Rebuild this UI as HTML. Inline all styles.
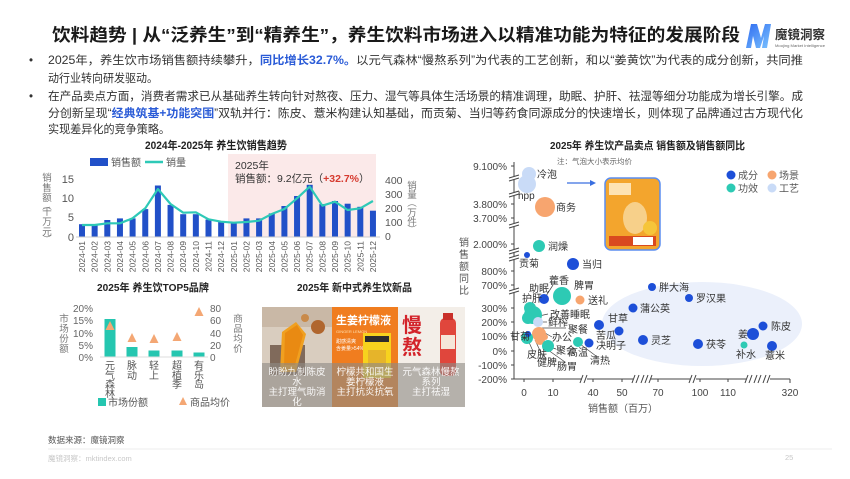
<!DOCTYPE html>
<html><head><meta charset="utf-8">
<style>
html,body{margin:0;padding:0;background:#fff;}
svg{display:block;font-family:"Liberation Sans","Noto Sans CJK SC",sans-serif;}
</style></head>
<body>
<svg width="850" height="479" viewBox="0 0 850 479" xmlns="http://www.w3.org/2000/svg">
<defs>
<linearGradient id="lg" x1="0" y1="0" x2="1" y2="1"><stop offset="0" stop-color="#2f6cf0"/><stop offset="1" stop-color="#7cc3ff"/></linearGradient>
</defs>
<rect width="850" height="479" fill="#fff"/>

<!-- Title -->
<text x="52" y="41" font-size="17.5" font-weight="bold" fill="#1a1a1a" textLength="688" lengthAdjust="spacingAndGlyphs">饮料趋势 | 从“泛养生”到“精养生”，养生饮料市场进入以精准功能为特征的发展阶段</text>
<!-- Logo -->
<path d="M746 48 L751 24 L757 24 L761 38 L765 24 L771 24 L767 48 L762 48 L764 36 L760 48 L756 48 L753 36 L751 48 Z" fill="url(#lg)"/>
<text x="775" y="39" font-size="12.5" font-weight="bold" fill="#333" textLength="50" lengthAdjust="spacingAndGlyphs">魔镜洞察</text>
<text x="775" y="47" font-size="3.6" fill="#666" textLength="50" lengthAdjust="spacingAndGlyphs">Moojing Market Intelligence</text>

<!-- Bullets -->
<g font-size="11.5" fill="#333">
<text x="29" y="64">•</text>
<text x="48" y="64" textLength="755" lengthAdjust="spacingAndGlyphs">2025年，养生饮市场销售额持续攀升，<tspan fill="#2a5bd7" font-weight="bold">同比增长32.7%。</tspan>以元气森林“慢熬系列”为代表的工艺创新，和以“姜黄饮”为代表的成分创新，共同推</text>
<text x="48" y="82" textLength="110" lengthAdjust="spacingAndGlyphs">动行业转向研发驱动。</text>
<text x="29" y="100">•</text>
<text x="48" y="100" textLength="755" lengthAdjust="spacingAndGlyphs">在产品卖点方面，消费者需求已从基础养生转向针对熬夜、压力、湿气等具体生活场景的精准调理，助眠、护肝、祛湿等细分功能成为增长引擎。成</text>
<text x="48" y="117" textLength="755" lengthAdjust="spacingAndGlyphs">分创新呈现“<tspan fill="#2a5bd7" font-weight="bold">经典筑基+功能突围</tspan>”双轨并行：陈皮、薏米构建认知基础，而贡菊、当归等药食同源成分的快速增长，则体现了品牌通过古方现代化</text>
<text x="48" y="133" textLength="122" lengthAdjust="spacingAndGlyphs">实现差异化的竞争策略。</text>
</g>

<!-- ===== Top-left chart ===== -->
<text x="145" y="149" font-size="11" font-weight="bold" fill="#222" textLength="142" lengthAdjust="spacingAndGlyphs">2024年-2025年 养生饮销售趋势</text>
<rect x="228" y="154" width="148" height="83" fill="#fbe9e9"/>
<rect x="90" y="158" width="18" height="8" fill="#2150c8"/>
<text x="111" y="166" font-size="10" fill="#555">销售额</text>
<line x1="145" y1="162" x2="163" y2="162" stroke="#2ec9b7" stroke-width="2.5"/>
<text x="166" y="166" font-size="10" fill="#555">销量</text>
<text x="235" y="169" font-size="10.5" fill="#333">2025年</text>
<text x="235" y="182" font-size="10.5" fill="#333">销售额：9.2亿元（<tspan fill="#d63a2f" font-weight="bold">+32.7%</tspan>）</text>

<g font-size="11" fill="#555" text-anchor="end">
<text x="74" y="183">15</text><text x="74" y="202">10</text><text x="74" y="221">5</text><text x="74" y="241">0</text>
</g>
<g font-size="10.5" fill="#555">
<text x="385" y="184">400</text><text x="385" y="198">300</text><text x="385" y="212">200</text><text x="385" y="226">100</text><text x="385" y="240">0</text>
</g>
<g font-size="9.5" fill="#777" text-anchor="middle">
<text x="47" y="181">销</text><text x="47" y="191">售</text><text x="47" y="201">额</text><text x="47" y="209">︵</text><text x="47" y="215">千</text><text x="47" y="225">万</text><text x="47" y="235">元</text><text x="47" y="243">︶</text>
<text x="412" y="189">销</text><text x="412" y="198">量</text><text x="412" y="206">︵</text><text x="412" y="216">万</text><text x="412" y="225">件</text><text x="412" y="233">︶</text>
</g>
<g fill="#2150c8">
<rect x="79" y="224.2" width="6" height="12.8"/>
<rect x="91.65" y="224.2" width="6" height="12.8"/>
<rect x="104.3" y="220" width="6" height="17"/>
<rect x="116.95" y="218.4" width="6" height="18.6"/>
<rect x="129.6" y="218.4" width="6" height="18.6"/>
<rect x="142.25" y="209.1" width="6" height="27.9"/>
<rect x="154.9" y="185.5" width="6" height="51.5"/>
<rect x="167.55" y="204.9" width="6" height="32.1"/>
<rect x="180.2" y="214.2" width="6" height="22.8"/>
<rect x="192.85" y="214.2" width="6" height="22.8"/>
<rect x="205.5" y="219.6" width="6" height="17.4"/>
<rect x="218.15" y="221.9" width="6" height="15.1"/>
<rect x="230.8" y="222.7" width="6" height="14.3"/>
<rect x="243.45" y="218.4" width="6" height="18.6"/>
<rect x="256.1" y="218.4" width="6" height="18.6"/>
<rect x="268.75" y="213.4" width="6" height="23.6"/>
<rect x="281.4" y="206" width="6" height="31"/>
<rect x="294.05" y="196" width="6" height="41"/>
<rect x="306.7" y="184.8" width="6" height="52.2"/>
<rect x="319.35" y="204.1" width="6" height="32.9"/>
<rect x="332" y="201" width="6" height="36"/>
<rect x="344.65" y="203.7" width="6" height="33.3"/>
<rect x="357.3" y="206.8" width="6" height="30.2"/>
<rect x="369.95" y="210.7" width="6" height="26.3"/>
</g>
<line x1="76" y1="237" x2="380" y2="237" stroke="#ccc" stroke-width="1"/>
<polyline fill="none" stroke="#2ec9b7" stroke-width="2.2" stroke-linejoin="round" points="82,225 94.65,225 107.3,223.3 119.95,223.3 132.6,218.3 145.25,208.3 157.9,189 170.55,204 183.2,212.7 195.85,212.3 208.5,219.3 221.15,221.7 233.8,222.7 246.45,222 259.1,220.7 271.75,214 284.4,209 297.05,198.3 309.7,186.7 322.35,205.7 335,201.7 347.65,210 360.3,208.3 372.95,201"/>
<g font-size="8.5" fill="#555" text-anchor="end">
<text transform="translate(85,241) rotate(-90)">2024-01</text>
<text transform="translate(97.65,241) rotate(-90)">2024-02</text>
<text transform="translate(110.3,241) rotate(-90)">2024-03</text>
<text transform="translate(122.95,241) rotate(-90)">2024-04</text>
<text transform="translate(135.6,241) rotate(-90)">2024-05</text>
<text transform="translate(148.25,241) rotate(-90)">2024-06</text>
<text transform="translate(160.9,241) rotate(-90)">2024-07</text>
<text transform="translate(173.55,241) rotate(-90)">2024-08</text>
<text transform="translate(186.2,241) rotate(-90)">2024-09</text>
<text transform="translate(198.85,241) rotate(-90)">2024-10</text>
<text transform="translate(211.5,241) rotate(-90)">2024-11</text>
<text transform="translate(224.15,241) rotate(-90)">2024-12</text>
<text transform="translate(236.8,241) rotate(-90)">2025-01</text>
<text transform="translate(249.45,241) rotate(-90)">2025-02</text>
<text transform="translate(262.1,241) rotate(-90)">2025-03</text>
<text transform="translate(274.75,241) rotate(-90)">2025-04</text>
<text transform="translate(287.4,241) rotate(-90)">2025-05</text>
<text transform="translate(300.05,241) rotate(-90)">2025-06</text>
<text transform="translate(312.7,241) rotate(-90)">2025-07</text>
<text transform="translate(325.35,241) rotate(-90)">2025-08</text>
<text transform="translate(338,241) rotate(-90)">2025-09</text>
<text transform="translate(350.65,241) rotate(-90)">2025-10</text>
<text transform="translate(363.3,241) rotate(-90)">2025-11</text>
<text transform="translate(375.95,241) rotate(-90)">2025-12</text>
</g>

<!-- ===== TOP5 chart ===== -->
<text x="97" y="291" font-size="10.5" font-weight="bold" fill="#222" textLength="112" lengthAdjust="spacingAndGlyphs">2025年 养生饮TOP5品牌</text>
<g font-size="10" fill="#666" text-anchor="end">
<text x="93" y="312">20%</text><text x="93" y="324">15%</text><text x="93" y="337">10%</text><text x="93" y="349">5%</text><text x="93" y="361">0%</text>
</g>
<g font-size="10" fill="#666">
<text x="210" y="312">80</text><text x="210" y="324">60</text><text x="210" y="337">40</text><text x="210" y="349">20</text><text x="210" y="361">0</text>
</g>
<g font-size="9.5" fill="#777" text-anchor="middle">
<text x="64" y="322">市</text><text x="64" y="332">场</text><text x="64" y="342">份</text><text x="64" y="352">额</text>
<text x="238" y="322">商</text><text x="238" y="332">品</text><text x="238" y="342">均</text><text x="238" y="352">价</text>
</g>
<g fill="#25c6b0">
<rect x="104.5" y="319" width="11" height="38"/>
<rect x="126.5" y="347" width="11" height="10"/>
<rect x="148.5" y="350.5" width="11" height="6.5"/>
<rect x="171.5" y="350.5" width="11" height="6.5"/>
<rect x="193.5" y="352.5" width="11" height="4.5"/>
</g>
<line x1="100" y1="357" x2="208" y2="357" stroke="#ddd"/>
<g fill="#f4a774">
<polygon points="110,321 114.5,330 105.5,330"/>
<polygon points="132,333 136.5,342 127.5,342"/>
<polygon points="154,334 158.5,343 149.5,343"/>
<polygon points="177,332 181.5,341 172.5,341"/>
<polygon points="199,307 203.5,316 194.5,316"/>
</g>
<g font-size="10" fill="#555" text-anchor="middle">
<text x="110" y="369">元</text><text x="110" y="379">气</text><text x="110" y="388">森</text><text x="110" y="397">林</text>
<text x="132" y="369">脉</text><text x="132" y="379">动</text>
<text x="154" y="369">轻</text><text x="154" y="379">上</text>
<text x="177" y="369">超</text><text x="177" y="379">植</text><text x="177" y="388">季</text>
<text x="199" y="369">有</text><text x="199" y="379">乐</text><text x="199" y="388">岛</text>
</g>
<rect x="98" y="398" width="8" height="8" fill="#25c6b0"/>
<text x="108" y="406" font-size="10" fill="#555">市场份额</text>
<polygon points="183,397 187,405 179,405" fill="#f4a774"/>
<text x="190" y="406" font-size="10" fill="#555">商品均价</text>

<!-- ===== Products ===== -->
<text x="297" y="291" font-size="10.5" font-weight="bold" fill="#222" textLength="115" lengthAdjust="spacingAndGlyphs">2025年 新中式养生饮新品</text>
<!-- panel 1 -->
<rect x="262" y="307" width="70" height="100" fill="#d9cdbf"/>
<rect x="262" y="307" width="70" height="20" fill="#c9b8a6"/>
<circle cx="318" cy="327" r="7" fill="#b0662e"/>
<circle cx="305" cy="318" r="4" fill="#c98a4a"/>
<rect x="270" y="345" width="35" height="30" fill="#5a4030" opacity="0.7"/>
<path d="M282 332 L296 322 L306 334 L296 372 L280 372 Z" fill="#f0a020"/>
<path d="M285 333 L297 325 L303 335 L295 365 L284 365 Z" fill="#e98a12"/>
<!-- panel 2 -->
<rect x="332" y="307" width="66" height="100" fill="#f07d1f"/>
<text x="336" y="324" font-size="11" font-weight="bold" fill="#fff">生姜柠檬液</text>
<text x="336" y="333" font-size="4" fill="#ffe0b0">GINGER LEMON</text>
<text x="336" y="343" font-size="5" fill="#fff">甜感清爽</text>
<text x="336" y="350" font-size="5" fill="#fff">含姜量&gt;54%</text>
<rect x="363" y="333" width="28" height="45" fill="#f7d21e"/>
<rect x="365" y="336" width="24" height="6" fill="#2d2d2d"/>
<rect x="368" y="350" width="18" height="22" fill="#e6b42a"/>
<!-- panel 3 -->
<rect x="398" y="307" width="67" height="100" fill="#f3eee8"/>
<text x="402" y="332" font-size="20" font-weight="bold" fill="#d3232a">慢</text>
<text x="402" y="354" font-size="20" font-weight="bold" fill="#d3232a">熬</text>
<rect x="440" y="318" width="16" height="58" rx="5" fill="#e0463c"/>
<rect x="443" y="313" width="10" height="7" fill="#c9302a"/>
<rect x="441" y="335" width="14" height="14" fill="#f5e6d8"/>
<!-- overlay -->
<rect x="262" y="363" width="203" height="44" fill="#8e8a86" opacity="0.62"/>
<g font-size="9.5" fill="#fff" text-anchor="middle" opacity="0.92">
<text x="297" y="375">盼盼九制陈皮</text><text x="297" y="385">水</text><text x="297" y="395">主打理气助消</text><text x="297" y="405">化</text>
<text x="365" y="375">柠檬共和国生</text><text x="365" y="385">姜柠檬液</text><text x="365" y="395">主打抗炎抗氧</text>
<text x="431" y="375">元气森林慢熬</text><text x="431" y="385">系列</text><text x="431" y="395">主打祛湿</text>
</g>

<!-- ===== Scatter ===== -->
<text x="550" y="149" font-size="10.5" font-weight="bold" fill="#222" textLength="195" lengthAdjust="spacingAndGlyphs">2025年 养生饮产品卖点 销售额及销售额同比</text>
<text x="557" y="164" font-size="7.5" fill="#666">注：气泡大小表示均价</text>
<circle cx="731" cy="175" r="4.5" fill="#1d4fd8"/><text x="738" y="179" font-size="10" fill="#555">成分</text>
<circle cx="772" cy="175" r="4.5" fill="#f7a56f"/><text x="779" y="179" font-size="10" fill="#555">场景</text>
<circle cx="731" cy="188" r="4.5" fill="#2dcab4"/><text x="738" y="192" font-size="10" fill="#555">功效</text>
<circle cx="772" cy="188" r="4.5" fill="#c9dbf7"/><text x="779" y="192" font-size="10" fill="#555">工艺</text>

<ellipse cx="702" cy="324" rx="100" ry="42" fill="#ebf0fb"/>

<!-- y axis -->
<line x1="514" y1="162" x2="514" y2="379" stroke="#444" stroke-width="1"/>
<g stroke="#444" stroke-width="1">
<line x1="511" y1="166" x2="514" y2="166"/><line x1="511" y1="204" x2="514" y2="204"/><line x1="511" y1="218" x2="514" y2="218"/>
<line x1="511" y1="244" x2="514" y2="244"/><line x1="511" y1="271" x2="514" y2="271"/><line x1="511" y1="285" x2="514" y2="285"/>
<line x1="511" y1="308" x2="514" y2="308"/><line x1="511" y1="322" x2="514" y2="322"/><line x1="511" y1="336" x2="514" y2="336"/>
<line x1="511" y1="351" x2="514" y2="351"/><line x1="511" y1="365" x2="514" y2="365"/><line x1="511" y1="379" x2="514" y2="379"/>
</g>
<!-- y breaks -->
<g stroke="#444" stroke-width="1">
<rect x="509" y="176" width="10" height="4" fill="#fff" stroke="none"/><line x1="509" y1="178" x2="519" y2="175"/><line x1="509" y1="181" x2="519" y2="178"/>
<rect x="509" y="192" width="10" height="4" fill="#fff" stroke="none"/><line x1="509" y1="194" x2="519" y2="191"/><line x1="509" y1="197" x2="519" y2="194"/>
<rect x="509" y="223" width="10" height="4" fill="#fff" stroke="none"/><line x1="509" y1="225" x2="519" y2="222"/><line x1="509" y1="228" x2="519" y2="225"/>
<rect x="509" y="249" width="10" height="4" fill="#fff" stroke="none"/><line x1="509" y1="251" x2="519" y2="248"/><line x1="509" y1="254" x2="519" y2="251"/>
<rect x="509" y="256" width="10" height="4" fill="#fff" stroke="none"/><line x1="509" y1="258" x2="519" y2="255"/><line x1="509" y1="261" x2="519" y2="258"/>
<rect x="509" y="289" width="10" height="4" fill="#fff" stroke="none"/><line x1="509" y1="291" x2="519" y2="288"/><line x1="509" y1="294" x2="519" y2="291"/>
</g>
<g font-size="10" fill="#444" text-anchor="end">
<text x="507" y="170">9.100%</text><text x="507" y="208">3.800%</text><text x="507" y="222">3.700%</text>
<text x="507" y="248">2.000%</text><text x="507" y="275">800%</text><text x="507" y="289">700%</text>
<text x="507" y="312">300%</text><text x="507" y="326">200%</text><text x="507" y="340">100%</text>
<text x="507" y="355">0%</text><text x="507" y="369">-100%</text><text x="507" y="383">-200%</text>
</g>
<g font-size="10" fill="#555" text-anchor="middle">
<text x="464" y="246">销</text><text x="464" y="258">售</text><text x="464" y="270">额</text><text x="464" y="282">同</text><text x="464" y="294">比</text>
</g>
<!-- x axis -->
<line x1="514" y1="379" x2="790" y2="379" stroke="#444" stroke-width="1"/>
<g stroke="#444" stroke-width="1">
<line x1="524" y1="379" x2="524" y2="382"/><line x1="553" y1="379" x2="553" y2="382"/><line x1="593" y1="379" x2="593" y2="382"/>
<line x1="622" y1="379" x2="622" y2="382"/><line x1="658" y1="379" x2="658" y2="382"/><line x1="700" y1="379" x2="700" y2="382"/>
<line x1="728" y1="379" x2="728" y2="382"/><line x1="790" y1="379" x2="790" y2="383"/>
</g>
<g stroke="#444" stroke-width="1">
<rect x="582" y="375" width="5" height="8" fill="#fff" stroke="none"/><line x1="580" y1="383" x2="583" y2="375"/><line x1="584" y1="383" x2="587" y2="375"/>
<rect x="633" y="375" width="18" height="8" fill="#fff" stroke="none"/><line x1="632" y1="383" x2="635" y2="375"/><line x1="636" y1="383" x2="639" y2="375"/><line x1="641" y1="383" x2="644" y2="375"/><line x1="645" y1="383" x2="648" y2="375"/><line x1="649" y1="383" x2="652" y2="375"/>
<rect x="690" y="375" width="6" height="8" fill="#fff" stroke="none"/><line x1="689" y1="383" x2="692" y2="375"/><line x1="693" y1="383" x2="696" y2="375"/>
<rect x="746" y="375" width="24" height="8" fill="#fff" stroke="none"/><line x1="745" y1="383" x2="748" y2="375"/><line x1="749" y1="383" x2="752" y2="375"/><line x1="754" y1="383" x2="757" y2="375"/><line x1="758" y1="383" x2="761" y2="375"/><line x1="763" y1="383" x2="766" y2="375"/><line x1="767" y1="383" x2="770" y2="375"/>
</g>
<g font-size="10" fill="#444" text-anchor="middle">
<text x="524" y="396">0</text><text x="553" y="396">10</text><text x="593" y="396">40</text><text x="622" y="396">50</text>
<text x="658" y="396">70</text><text x="700" y="396">100</text><text x="728" y="396">110</text><text x="790" y="396">320</text>
</g>
<text x="623" y="412" font-size="10" fill="#555" text-anchor="middle">销售额（百万）</text>

<!-- arrow & product thumb -->
<line x1="567" y1="183" x2="591" y2="183" stroke="#3a6fe0" stroke-width="1.2"/>
<polygon points="596,183 590,180 590,186" fill="#3a6fe0"/>
<rect x="605" y="178" width="55" height="72" rx="6" fill="#f3a52d" stroke="#5b8ef0" stroke-width="1.5"/>
<rect x="609" y="183" width="22" height="12" fill="#fff3d6" opacity="0.8"/>
<ellipse cx="635" cy="218" rx="12" ry="16" fill="#f7d08a"/>
<circle cx="650" cy="228" r="7" fill="#f6c53a"/>
<rect x="609" y="236" width="47" height="10" fill="#d9491f"/>
<rect x="633" y="237" width="20" height="8" fill="#fff"/>

<!-- leader lines -->
<g stroke="#444" stroke-width="0.7" fill="none">
<line x1="553" y1="285" x2="546" y2="296"/>
<line x1="533" y1="302" x2="531" y2="306"/>
<line x1="548" y1="314" x2="539" y2="316"/>
<line x1="547" y1="322" x2="542" y2="322"/>
<line x1="540" y1="328" x2="566" y2="328"/>
<line x1="545" y1="333" x2="552" y2="337"/>
<line x1="528" y1="340" x2="532" y2="349"/>
<line x1="535" y1="340" x2="543" y2="357"/>
<line x1="550" y1="347" x2="556" y2="349"/>
<line x1="548" y1="350" x2="565" y2="362"/>
<line x1="580" y1="344" x2="596" y2="356"/>
</g>

<!-- bubbles -->
<circle cx="529" cy="174" r="7" fill="#c9dbf7"/>
<circle cx="527" cy="184" r="9" fill="#c9dbf7"/>
<circle cx="545" cy="207" r="10" fill="#f7a56f"/>
<circle cx="539" cy="246" r="6" fill="#2dcab4"/>
<circle cx="527" cy="255" r="3" fill="#1d4fd8"/>
<circle cx="573" cy="264" r="6" fill="#1d4fd8"/>
<circle cx="562" cy="296" r="9" fill="#2dcab4"/>
<circle cx="544" cy="299" r="5" fill="#1d4fd8"/>
<circle cx="580" cy="300" r="4.5" fill="#f7a56f"/>
<circle cx="530" cy="308" r="6" fill="#2dcab4"/>
<circle cx="533" cy="315" r="9" fill="#2dcab4"/>
<circle cx="528" cy="318" r="6" fill="#2dcab4"/>
<circle cx="538" cy="322" r="5" fill="#c9dbf7"/>
<circle cx="539" cy="334" r="7" fill="#f7a56f"/>
<circle cx="540" cy="340" r="5" fill="#f7a56f"/>
<circle cx="545" cy="337" r="3" fill="#f7a56f"/>
<circle cx="527" cy="338" r="6" fill="#2dcab4"/>
<circle cx="528" cy="334" r="3" fill="#1d4fd8"/>
<circle cx="548" cy="346" r="6" fill="#2dcab4"/>
<circle cx="578" cy="342" r="5" fill="#2dcab4"/>
<circle cx="589" cy="343" r="4.5" fill="#1d4fd8"/>
<circle cx="599" cy="325" r="5" fill="#1d4fd8"/>
<circle cx="619" cy="331" r="4.5" fill="#1d4fd8"/>
<circle cx="633" cy="308" r="4.5" fill="#1d4fd8"/>
<circle cx="652" cy="287" r="4" fill="#1d4fd8"/>
<circle cx="689" cy="298" r="4" fill="#1d4fd8"/>
<circle cx="643" cy="340" r="5" fill="#1d4fd8"/>
<circle cx="698" cy="344" r="5" fill="#1d4fd8"/>
<circle cx="753" cy="334" r="6" fill="#1d4fd8"/>
<circle cx="763" cy="326" r="4.5" fill="#1d4fd8"/>
<circle cx="744" cy="345" r="3.5" fill="#2dcab4"/>
<circle cx="772" cy="346" r="5" fill="#1d4fd8"/>

<!-- labels -->
<g font-size="10" fill="#333">
<text x="537" y="178">冷泡</text>
<text x="518" y="199">hpp</text>
<text x="556" y="211">商务</text>
<text x="548" y="250">润燥</text>
<text x="519" y="267">贡菊</text>
<text x="582" y="268">当归</text>
<text x="549" y="284">藿香</text>
<text x="529" y="292">助眠</text>
<text x="574" y="289">脾胃</text>
<text x="588" y="304">送礼</text>
<text x="522" y="302">护肝</text>
<text x="550" y="318">改善睡眠</text>
<text x="548" y="326">鲜榨</text>
<text x="568" y="333">聚餐</text>
<text x="510" y="340">甘菊</text>
<text x="552" y="341">办公</text>
<text x="556" y="354">聚会</text>
<text x="568" y="356">高温</text>
<text x="596" y="349">决明子</text>
<text x="590" y="364">清热</text>
<text x="527" y="358">皮肤</text>
<text x="537" y="366">健脾</text>
<text x="557" y="370">肠胃</text>
<text x="608" y="322">甘草</text>
<text x="596" y="339">苦瓜</text>
<text x="640" y="312">蒲公英</text>
<text x="659" y="291">胖大海</text>
<text x="696" y="302">罗汉果</text>
<text x="651" y="344">灵芝</text>
<text x="706" y="348">茯苓</text>
<text x="738" y="338">姜</text>
<text x="771" y="330">陈皮</text>
<text x="736" y="358">补水</text>
<text x="765" y="359">薏米</text>
</g>

<!-- footer -->
<text x="48" y="443" font-size="8.5" fill="#555">数据来源：魔镜洞察</text>
<line x1="48" y1="449" x2="832" y2="449" stroke="#eee" stroke-width="1"/>
<text x="48" y="461" font-size="7.5" fill="#c8c8c8">魔镜洞察：mktindex.com</text>
<text x="785" y="460" font-size="7.5" fill="#c8c8c8">25</text>
</svg>
</body></html>
